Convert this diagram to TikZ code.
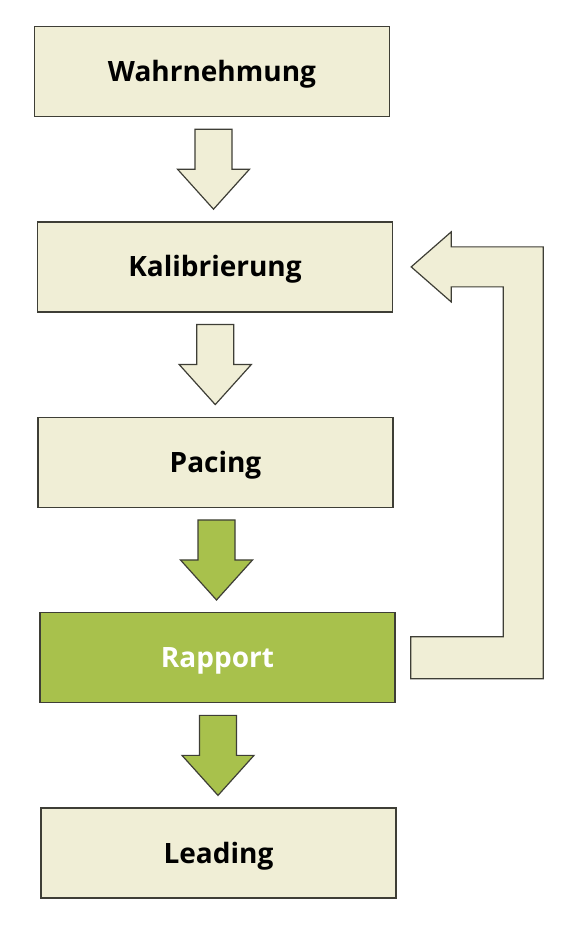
\documentclass[tikz,border=0pt]{standalone}
\usepackage{fontspec}
\setsansfont{Open Sans}
\usetikzlibrary{positioning,calc}
\definecolor{boxbeige}{RGB}{240,238,214}
\definecolor{boxgreen}{RGB}{168,193,76}
\definecolor{edgegray}{RGB}{62,62,54}

\begin{document}
\begin{tikzpicture}[x=1pt,y=1pt,
    every node/.style={font=\sffamily\bfseries\fontsize{28}{33}\selectfont},
    stage/.style={draw=edgegray, line width=1.4pt, fill=boxbeige,
        minimum width=355pt, minimum height=90pt, inner sep=0pt,
        text height=20pt, text depth=0pt},
    active/.style={stage, fill=boxgreen, text=white},
    blockarrow/.style={draw=edgegray, line width=1.2pt, line join=miter}]
    % Canvas
    \useasboundingbox (0,0) rectangle (571,925);

    % Stages
    \node[stage] (wahr) at (212,853.5) {Wahrnehmung};
    \node[stage, below=104pt of wahr, xshift=3pt] (kal) {Kalibrierung};
    \node[stage, below=104pt of kal, xshift=0.5pt] (pac) {Pacing};
    \node[active, below=104pt of pac, xshift=2pt] (rap) {Rapport};
    \node[stage, below=104pt of rap, xshift=1pt] (lead) {Leading};

    % Block arrows between the stages
    \foreach \a/\b/\col in {wahr/kal/boxbeige, kal/pac/boxbeige,
                            pac/rap/boxgreen, rap/lead/boxgreen}{
        \coordinate (mid) at ($(\a.south)!0.5!(\b.north)$);
        \draw[blockarrow, fill=\col] (mid) ++(-18.5,40) -- ++(37,0)
            -- ++(0,-40) -- ++(17.5,0) -- ++(-36,-40) -- ++(-36,40)
            -- ++(17.5,0) -- cycle;
    }

    % Feedback arrow from Rapport back to Kalibrierung
    \coordinate (fbtip) at ($(kal.east)+(18,0)$);
    \coordinate (fbend) at ($(rap.east)+(15,0)$);
    \draw[blockarrow, fill=boxbeige]
        let \p1=(fbtip), \p2=(fbend) in
        (\p1) -- ++(40,35) -- ++(0,-15) -- (\x1+132pt,\y1+20pt)
        -- (\x1+132pt,\y2-21pt) -- (\x2,\y2-21pt) -- (\x2,\y2+21pt)
        -- (\x1+92pt,\y2+21pt) -- (\x1+92pt,\y1-20pt) -- (\x1+40pt,\y1-20pt)
        -- (\x1+40pt,\y1-35pt) -- cycle;
\end{tikzpicture}
\end{document}
